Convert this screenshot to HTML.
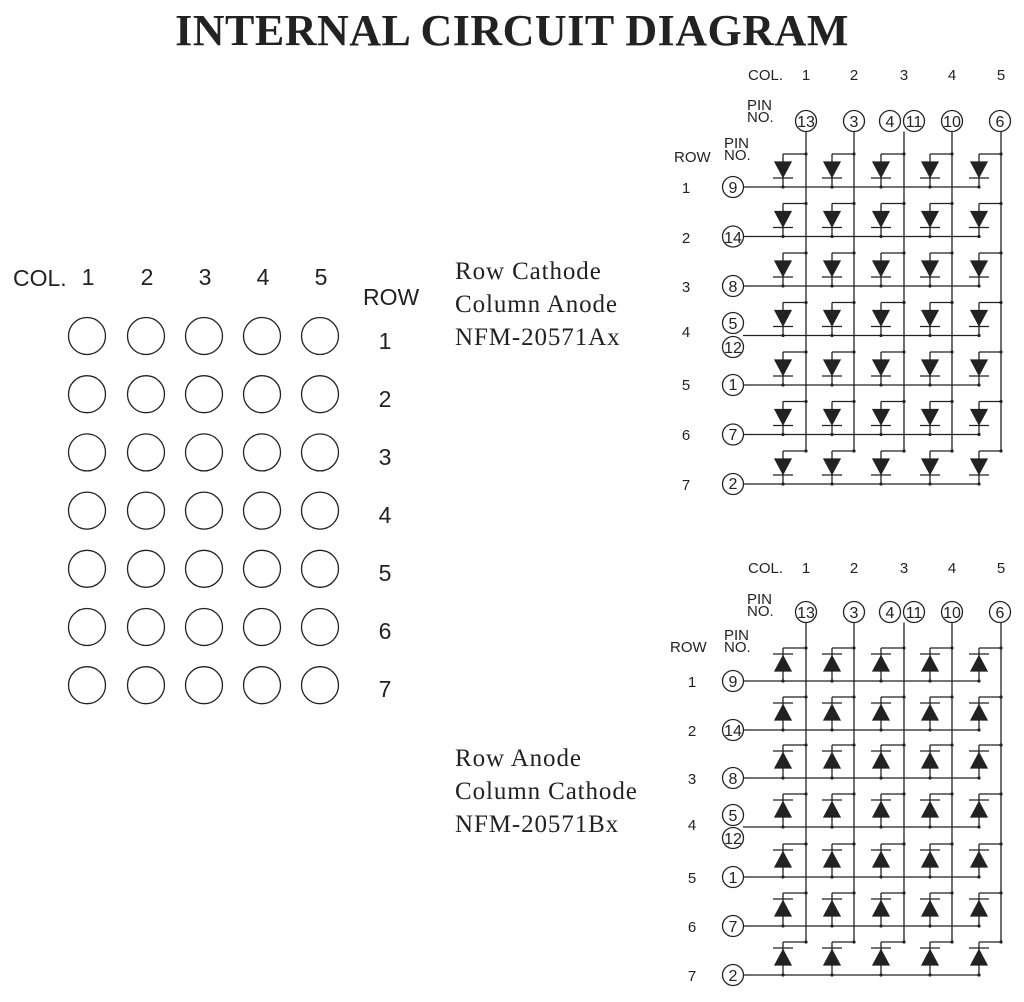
<!DOCTYPE html>
<html><head><meta charset="utf-8"><style>
html,body{margin:0;padding:0;background:#fff;}
svg{display:block}
.t{font-family:"Liberation Sans",sans-serif;fill:#222}
.s{font-family:"Liberation Serif",serif;fill:#222}
</style></head><body>
<svg id="sv" width="1024" height="1002" viewBox="0 0 1024 1002" xmlns="http://www.w3.org/2000/svg">
<text x="512" y="45" text-anchor="middle" class="s" font-size="44" font-weight="bold" letter-spacing="0.5">INTERNAL CIRCUIT DIAGRAM</text>
<g class="t" font-size="23">
<text x="13" y="286">COL.</text><text x="88" y="285" text-anchor="middle">1</text><text x="147" y="285" text-anchor="middle">2</text><text x="205" y="285" text-anchor="middle">3</text><text x="263" y="285" text-anchor="middle">4</text><text x="321" y="285" text-anchor="middle">5</text>
<text x="363" y="305">ROW</text>
<text x="385" y="349" text-anchor="middle">1</text><text x="385" y="407" text-anchor="middle">2</text><text x="385" y="465" text-anchor="middle">3</text><text x="385" y="523" text-anchor="middle">4</text><text x="385" y="581" text-anchor="middle">5</text><text x="385" y="639" text-anchor="middle">6</text><text x="385" y="697" text-anchor="middle">7</text>
</g>
<g class="s" font-size="25" letter-spacing="0.9">
<text x="455" y="279">Row Cathode</text><text x="455" y="312">Column Anode</text><text x="455" y="345">NFM-20571Ax</text>
<text x="455" y="766">Row Anode</text><text x="455" y="799">Column Cathode</text><text x="455" y="832">NFM-20571Bx</text>
</g>
<g class="t" font-size="15">
<text x="748" y="80">COL.</text><text x="806" y="80" text-anchor="middle">1</text><text x="854" y="80" text-anchor="middle">2</text><text x="904" y="80" text-anchor="middle">3</text><text x="952" y="80" text-anchor="middle">4</text><text x="1001" y="80" text-anchor="middle">5</text>
<text x="747" y="110">PIN</text><text x="747" y="122">NO.</text>
<text x="724" y="148">PIN</text><text x="724" y="160">NO.</text><text x="674" y="162">ROW</text>
<text x="686" y="193" text-anchor="middle">1</text><text x="686" y="243" text-anchor="middle">2</text><text x="686" y="292" text-anchor="middle">3</text><text x="686" y="337" text-anchor="middle">4</text><text x="686" y="390" text-anchor="middle">5</text><text x="686" y="440" text-anchor="middle">6</text><text x="686" y="490" text-anchor="middle">7</text>
<text x="748" y="573">COL.</text><text x="806" y="573" text-anchor="middle">1</text><text x="854" y="573" text-anchor="middle">2</text><text x="904" y="573" text-anchor="middle">3</text><text x="952" y="573" text-anchor="middle">4</text><text x="1001" y="573" text-anchor="middle">5</text>
<text x="747" y="604">PIN</text><text x="747" y="616">NO.</text>
<text x="724" y="640">PIN</text><text x="724" y="652">NO.</text><text x="670" y="652">ROW</text>
<text x="692" y="687" text-anchor="middle">1</text><text x="692" y="736" text-anchor="middle">2</text><text x="692" y="784" text-anchor="middle">3</text><text x="692" y="830" text-anchor="middle">4</text><text x="692" y="883" text-anchor="middle">5</text><text x="692" y="932" text-anchor="middle">6</text><text x="692" y="981" text-anchor="middle">7</text>
</g>
<g class="t" font-size="16" text-anchor="middle">
<text x="806" y="127">13</text><text x="854" y="127">3</text><text x="890" y="127">4</text><text x="914" y="127">11</text><text x="952" y="127">10</text><text x="1000" y="127">6</text>
<text x="733" y="193">9</text><text x="733" y="243">14</text><text x="733" y="292">8</text><text x="733" y="329">5</text><text x="733" y="353">12</text><text x="733" y="390">1</text><text x="733" y="440">7</text><text x="733" y="489">2</text>
<text x="806" y="618">13</text><text x="854" y="618">3</text><text x="890" y="618">4</text><text x="914" y="618">11</text><text x="952" y="618">10</text><text x="1000" y="618">6</text>
<text x="733" y="687">9</text><text x="733" y="736">14</text><text x="733" y="784">8</text><text x="733" y="821">5</text><text x="733" y="844">12</text><text x="733" y="883">1</text><text x="733" y="932">7</text><text x="733" y="981">2</text>
</g>
<g id="g" stroke="#222" fill="none" stroke-width="1.3"></g>
</svg>
<script>
var g=document.getElementById('g'),NS='http://www.w3.org/2000/svg';
function el(t,a){var e=document.createElementNS(NS,t);for(var k in a)e.setAttribute(k,a[k]);g.appendChild(e);return e;}
function L(x1,y1,x2,y2){el('line',{x1:x1,y1:y1,x2:x2,y2:y2});}
function C(x,y,r){el('circle',{cx:x,cy:y,r:r});}
function D(x,y){el('circle',{cx:x,cy:y,r:1.6,fill:'#222',stroke:'none'});}
function P(p){el('polygon',{points:p,fill:'#222',stroke:'#222'});}
var lx=[87,146,204,262,320];
for(var r=0;r<7;r++)for(var c=0;c<5;c++)C(lx[c],336+58.2*r,18.5);
var cx=[806,854,904,952,1001],dx=[783,832,881,930,979];
function circuit(pinY,rows,up,r4){
 [806,854,890,914,952,1000].forEach(function(x){C(x,pinY,10.5);});
 rows.forEach(function(y,i){
  if(i==3){C(733,r4[0],10.5);C(733,r4[1],10.5);}else C(733,y,10.5);
  L(743,y,dx[4],y);
  for(var c=0;c<5;c++){var x=dx[c],t=y-33;
   L(x,y,x,t);L(x,t,cx[c],t);D(cx[c],t);D(x,y);
   if(!up){P((x-8)+','+(y-25)+' '+(x+8)+','+(y-25)+' '+x+','+(y-10));L(x-10,y-9,x+10,y-9);}
   else{P((x-8)+','+(y-10)+' '+(x+8)+','+(y-10)+' '+x+','+(y-25));L(x-10,y-27,x+10,y-27);}
  }
 });
 var last=rows[6]-33;
 for(var c=0;c<5;c++)L(cx[c],pinY+10.5,cx[c],last);
}
circuit(121,[187,236.5,286,335.5,385,434.5,484],false,[323,347]);
circuit(612,[681,730,778,827,877,926,975],true,[815,838]);
</script>
</body></html>
